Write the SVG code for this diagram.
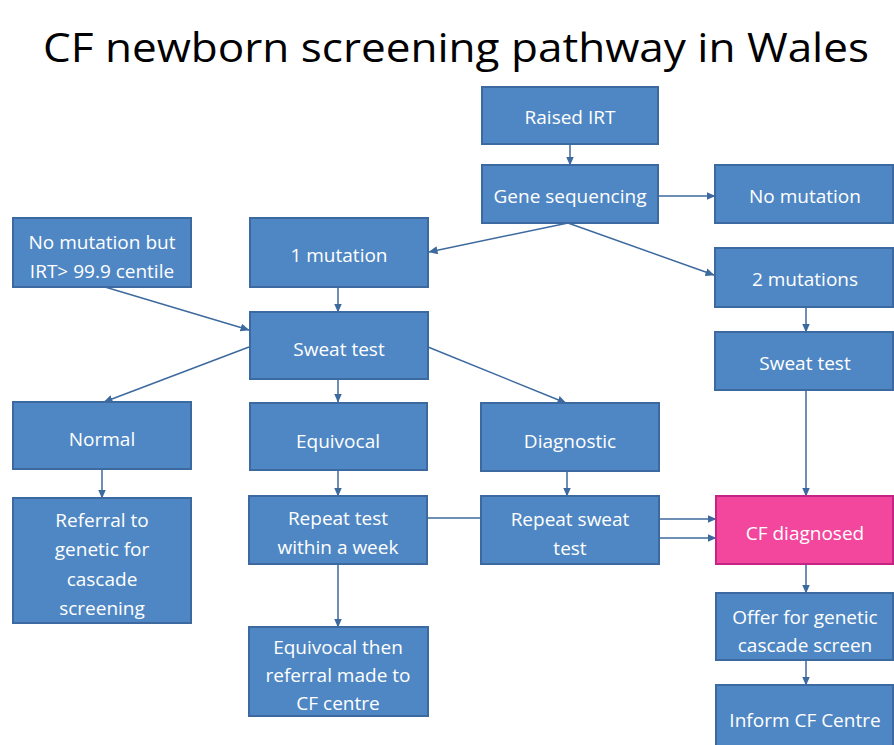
<svg xmlns="http://www.w3.org/2000/svg" width="894" height="745" viewBox="0 0 894 745">
<defs>
<marker id="ah" markerWidth="9" markerHeight="8" refX="8.5" refY="4" orient="auto" markerUnits="userSpaceOnUse">
<path d="M0,0 L9,4 L0,8 Z" fill="#3d6a9e"/>
</marker>
<style>
.box{fill:#4f87c4;stroke:#3c6aa0;stroke-width:2}
.pink{fill:#f2479d;stroke:#c42484;stroke-width:2}
.t{font-family:"Open Sans","Liberation Sans",sans-serif;font-size:19px;fill:#ffffff;text-anchor:middle;dominant-baseline:central}
.c{stroke:#3d6a9e;stroke-width:1.5;fill:none}
.a{marker-end:url(#ah)}
.title{font-family:"Open Sans","Liberation Sans",sans-serif;font-size:41px;fill:#000000}
</style>
</defs>
<rect width="894" height="745" fill="#ffffff"/>
<text class="title" x="43" y="62" textLength="826" lengthAdjust="spacingAndGlyphs">CF newborn screening pathway in Wales</text>

<g id="connectors">
<line class="c a" x1="570" y1="144" x2="570" y2="165"/>
<line class="c a" x1="658" y1="196" x2="715" y2="196"/>
<line class="c a" x1="568" y1="223" x2="429" y2="252"/>
<line class="c a" x1="568" y1="223" x2="714" y2="275"/>
<line class="c a" x1="105" y1="287" x2="249" y2="330"/>
<line class="c a" x1="338" y1="287" x2="338" y2="312"/>
<line class="c a" x1="249" y1="347" x2="104" y2="402"/>
<line class="c a" x1="338" y1="379" x2="338" y2="402"/>
<line class="c a" x1="428" y1="347" x2="566" y2="403"/>
<line class="c a" x1="338" y1="470" x2="338" y2="496"/>
<line class="c" x1="428" y1="518" x2="482" y2="518"/>
<line class="c a" x1="567" y1="471" x2="567" y2="496"/>
<line class="c a" x1="659" y1="519" x2="716" y2="519"/>
<line class="c a" x1="659" y1="538" x2="716" y2="538"/>
<line class="c a" x1="102" y1="469" x2="102" y2="498"/>
<line class="c a" x1="338" y1="564" x2="338" y2="627"/>
<line class="c a" x1="806" y1="307" x2="806" y2="332"/>
<line class="c a" x1="806" y1="390" x2="806" y2="496"/>
<line class="c a" x1="806" y1="564" x2="806" y2="593"/>
<line class="c a" x1="806" y1="660" x2="806" y2="685"/>
</g>

<g id="raised-irt"><rect class="box" x="482" y="87" width="176" height="57"/><text class="t" x="570" y="117">Raised IRT</text></g>
<g id="gene-sequencing"><rect class="box" x="482" y="165" width="176" height="58"/><text class="t" x="570" y="196">Gene sequencing</text></g>
<g id="no-mutation"><rect class="box" x="715" y="165" width="178" height="58"/><text class="t" x="805" y="196">No mutation</text></g>
<g id="two-mutations"><rect class="box" x="715" y="248" width="178" height="59"/><text class="t" x="805" y="279">2 mutations</text></g>
<g id="no-mutation-irt"><rect class="box" x="13" y="218" width="178" height="69"/><text class="t" x="102" y="242">No mutation but</text><text class="t" x="102" y="271">IRT&gt; 99.9 centile</text></g>
<g id="one-mutation"><rect class="box" x="250" y="218" width="178" height="69"/><text class="t" x="339" y="255">1 mutation</text></g>
<g id="sweat-test"><rect class="box" x="250" y="312" width="178" height="67"/><text class="t" x="339" y="349">Sweat test</text></g>
<g id="sweat-test-2"><rect class="box" x="715" y="332" width="178" height="58"/><text class="t" x="805" y="363">Sweat test</text></g>
<g id="normal"><rect class="box" x="13" y="402" width="178" height="67"/><text class="t" x="102" y="439">Normal</text></g>
<g id="equivocal"><rect class="box" x="250" y="403" width="177" height="67"/><text class="t" x="338" y="441">Equivocal</text></g>
<g id="diagnostic"><rect class="box" x="481" y="403" width="178" height="68"/><text class="t" x="570" y="441">Diagnostic</text></g>
<g id="referral"><rect class="box" x="13" y="498" width="178" height="125"/><text class="t" x="102" y="520">Referral to</text><text class="t" x="102" y="549">genetic for</text><text class="t" x="102" y="579">cascade</text><text class="t" x="102" y="608">screening</text></g>
<g id="repeat-test"><rect class="box" x="249" y="496" width="178" height="68"/><text class="t" x="338" y="518">Repeat test</text><text class="t" x="338" y="547">within a week</text></g>
<g id="repeat-sweat"><rect class="box" x="481" y="496" width="178" height="68"/><text class="t" x="570" y="519">Repeat sweat</text><text class="t" x="570" y="548">test</text></g>
<g id="cf-diagnosed"><rect class="pink" x="716" y="496" width="177" height="68"/><text class="t" x="805" y="533">CF diagnosed</text></g>
<g id="equivocal-referral"><rect class="box" x="249" y="627" width="179" height="89"/><text class="t" x="338" y="647">Equivocal then</text><text class="t" x="338" y="675">referral made to</text><text class="t" x="338" y="703">CF centre</text></g>
<g id="offer-genetic"><rect class="box" x="716" y="593" width="177" height="67"/><text class="t" x="805" y="617">Offer for genetic</text><text class="t" x="805" y="645">cascade screen</text></g>
<g id="inform-cf"><rect class="box" x="716" y="685" width="177" height="70"/><text class="t" x="805" y="720">Inform CF Centre</text></g>
</svg>
